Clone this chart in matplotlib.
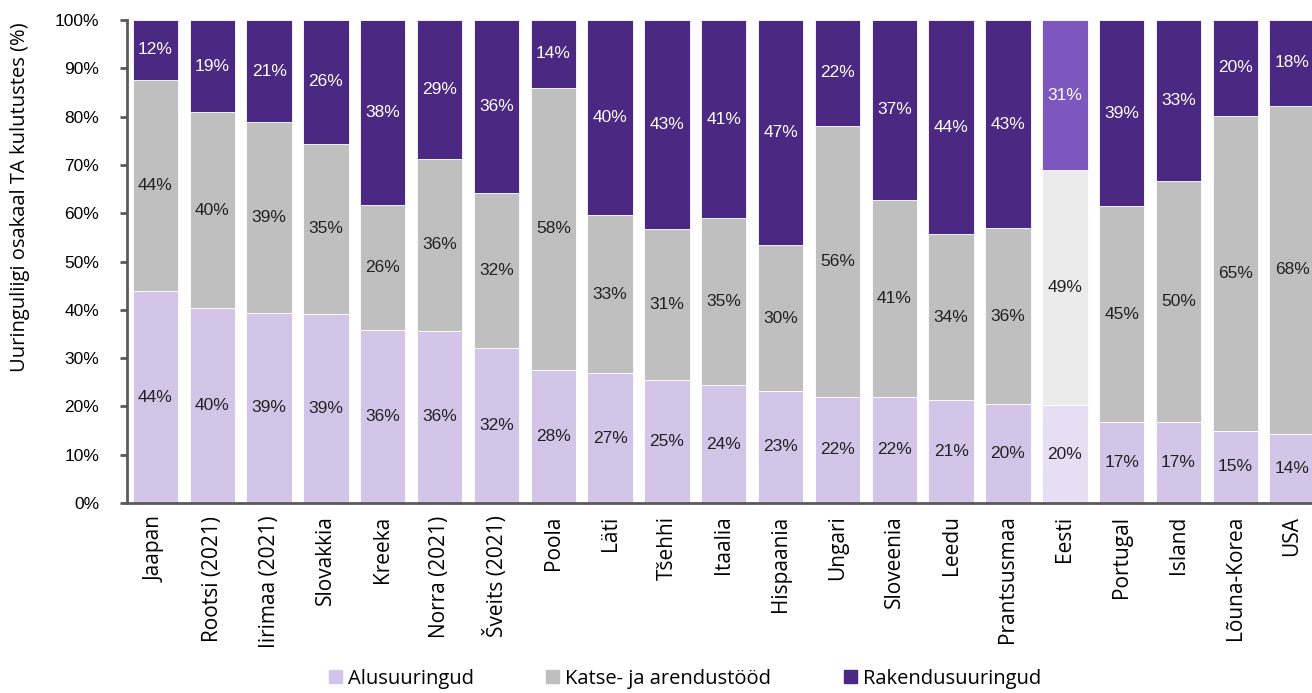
import matplotlib.pyplot as plt
import numpy as np

plt.rcParams['font.family'] = ['Liberation Sans', 'DejaVu Sans']

riigid = ["Jaapan", "Rootsi (2021)", "Iirimaa (2021)", "Slovakkia", "Kreeka",
          "Norra (2021)", "Šveits (2021)", "Poola", "Läti", "Tšehhi", "Itaalia",
          "Hispaania", "Ungari", "Sloveenia", "Leedu", "Prantsusmaa", "Eesti",
          "Portugal", "Island", "Lõuna-Korea", "USA"]
alus = [43.8, 40.4, 39.4, 39.2, 35.8, 35.7, 32.0, 27.6, 26.9, 25.4, 24.4,
        23.2, 22.0, 22.0, 21.4, 20.4, 20.2, 16.8, 16.7, 15.0, 14.3]
katse = [43.8, 40.5, 39.4, 35.2, 26.0, 35.6, 32.2, 58.4, 32.7, 31.3, 34.6,
         30.2, 56.1, 40.8, 34.2, 36.5, 48.7, 44.6, 50.0, 65.2, 67.9]
rakendus = [12.4, 19.1, 21.2, 25.6, 38.2, 28.7, 35.8, 14.0, 40.4, 43.3, 41.0,
            46.6, 21.9, 37.2, 44.4, 43.1, 31.1, 38.6, 33.3, 19.8, 17.8]

c_alus, c_katse, c_rak = "#d3c5e8", "#bfbfbf", "#4b2882"
# Eesti esile tõstetud heledamate toonidega
e_alus, e_katse, e_rak = "#e6dff4", "#ebebeb", "#7d57be"

x = np.arange(len(riigid))
eesti = riigid.index("Eesti")
col1 = [e_alus if i == eesti else c_alus for i in x]
col2 = [e_katse if i == eesti else c_katse for i in x]
col3 = [e_rak if i == eesti else c_rak for i in x]

fig = plt.figure(figsize=(13.12, 6.93), dpi=100)
ax = fig.add_axes([127/1312, 1-503/693, 1-127/1312, (503-20)/693])

w = 0.8
ax.bar(x, alus, w, color=col1, edgecolor="white", linewidth=0.6)
ax.bar(x, katse, w, bottom=alus, color=col2, edgecolor="white", linewidth=0.6)
top_bottom = np.array(alus) + np.array(katse)
ax.bar(x, rakendus, w, bottom=top_bottom, color=col3, edgecolor="white", linewidth=0.6)

for i in x:
    ax.text(i, alus[i]/2, f"{alus[i]:.0f}%", ha="center", va="center", fontsize=12.5, color="#222222")
    ax.text(i, alus[i] + katse[i]/2, f"{katse[i]:.0f}%", ha="center", va="center", fontsize=12.5, color="#222222")
    ax.text(i, top_bottom[i] + rakendus[i]/2, f"{rakendus[i]:.0f}%", ha="center", va="center",
            fontsize=12.5, color="white")

ax.set_xlim(-0.5, 20.35)
ax.set_ylim(0, 100)
ax.set_yticks(np.arange(0, 101, 10))
ax.set_yticklabels([f"{v}%" for v in range(0, 101, 10)], fontsize=12.5)
ax.set_xticks(x)
ax.set_xticklabels(riigid, rotation=90, fontsize=15, family=["Open Sans", "DejaVu Sans"])
ax.tick_params(axis="x", length=0, pad=9)
ax.tick_params(axis="y", length=5, width=2, color="#595959", pad=15)
ax.set_ylabel("Uuringuliigi osakaal TA kulutustes (%)", fontsize=14.5,
              family=["Open Sans", "DejaVu Sans"])
ax.yaxis.set_label_coords(-0.082, 0.633)
for s in ["top", "right"]:
    ax.spines[s].set_visible(False)
for s in ["left", "bottom"]:
    ax.spines[s].set_color("#595959")
    ax.spines[s].set_linewidth(2)

handles = [plt.Rectangle((0, 0), 1, 1, color=c) for c in (c_alus, c_katse, c_rak)]
fig.legend(handles, ["Alusuuringud", "Katse- ja arendustööd", "Rakendusuuringud"],
           loc="lower center", bbox_to_anchor=(0.522, -0.02), ncol=3, frameon=False,
           prop={"family": ["Open Sans", "DejaVu Sans"], "size": 14.5},
           handlelength=0.65, handleheight=0.65, handletextpad=0.3, columnspacing=3.6)

fig.savefig("out.png", dpi=100)
